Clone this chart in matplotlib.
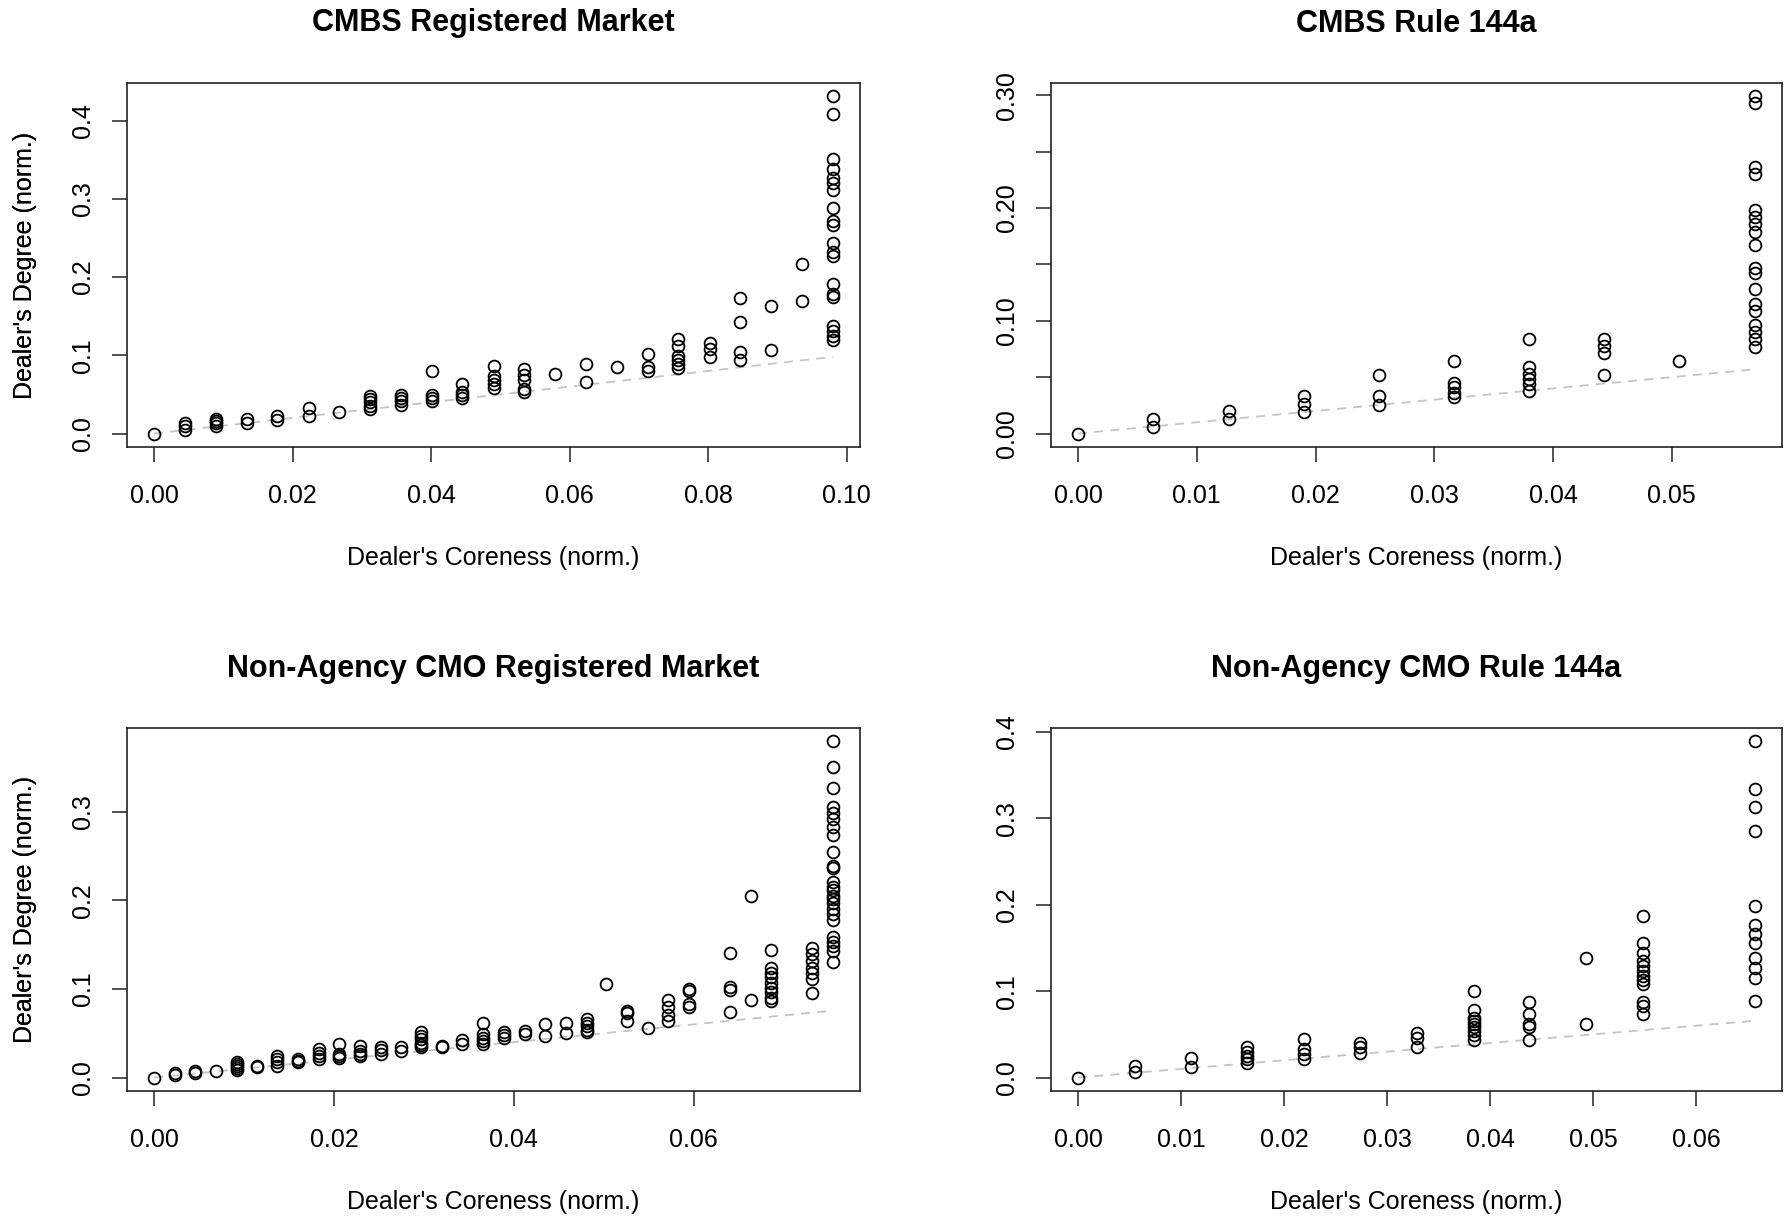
import matplotlib
matplotlib.use("Agg")
import matplotlib.pyplot as plt

plt.rcParams['font.family'] = ['Liberation Sans', 'DejaVu Sans']

# ---- CMBS Registered Market ----
cmbs_reg_core = [0.0, 0.0045, 0.0089, 0.0134, 0.0178, 0.0223, 0.0267, 0.0312,
                 0.0356, 0.0401, 0.0445, 0.0490, 0.0534, 0.0579, 0.0624, 0.0668,
                 0.0713, 0.0757, 0.0802, 0.0846, 0.0891, 0.0935, 0.0980]
cmbs_reg_deg = [
    [0.0],
    [0.005, 0.009, 0.013],
    [0.009, 0.013, 0.016, 0.018],
    [0.013, 0.018],
    [0.017, 0.022],
    [0.022, 0.032],
    [0.027],
    [0.031, 0.035, 0.040, 0.044, 0.048],
    [0.036, 0.041, 0.045, 0.049],
    [0.041, 0.045, 0.049, 0.080],
    [0.045, 0.049, 0.053, 0.063],
    [0.058, 0.063, 0.068, 0.074, 0.086],
    [0.053, 0.057, 0.068, 0.075, 0.082],
    [0.076],
    [0.066, 0.089],
    [0.085],
    [0.080, 0.085, 0.102],
    [0.084, 0.089, 0.094, 0.099, 0.112, 0.121],
    [0.098, 0.108, 0.116],
    [0.094, 0.104, 0.142, 0.173],
    [0.107, 0.163],
    [0.169, 0.217],
    [0.119, 0.125, 0.131, 0.138, 0.174, 0.178, 0.191, 0.227, 0.232, 0.244,
     0.267, 0.272, 0.289, 0.311, 0.321, 0.327, 0.338, 0.351, 0.408, 0.431],
]

# ---- CMBS Rule 144a ----
cmbs_144a_core = [0.0, 0.0063, 0.0127, 0.0190, 0.0253, 0.0317, 0.0380, 0.0443,
                  0.0506, 0.0570]
cmbs_144a_deg = [
    [0.0],
    [0.006, 0.013],
    [0.013, 0.020],
    [0.019, 0.026, 0.033],
    [0.025, 0.033, 0.052],
    [0.032, 0.036, 0.041, 0.045, 0.064],
    [0.038, 0.044, 0.048, 0.053, 0.059, 0.084],
    [0.052, 0.071, 0.078, 0.084],
    [0.064],
    [0.077, 0.084, 0.090, 0.096, 0.109, 0.115, 0.128, 0.142, 0.147, 0.167,
     0.179, 0.186, 0.192, 0.198, 0.230, 0.236, 0.293, 0.299],
]

# ---- Non-Agency CMO Registered Market ----
cmo_reg_core = [0.0, 0.0023, 0.0046, 0.0069, 0.0092, 0.0114, 0.0137, 0.0160,
                0.0183, 0.0206, 0.0229, 0.0252, 0.0275, 0.0297, 0.0320, 0.0343,
                0.0366, 0.0389, 0.0412, 0.0435, 0.0458, 0.0481, 0.0503, 0.0526,
                0.0549, 0.0572, 0.0595, 0.0641, 0.0664, 0.0686, 0.0732, 0.0755]
cmo_reg_deg = [
    [0.0],
    [0.003, 0.005],
    [0.005, 0.007],
    [0.007],
    [0.008, 0.011, 0.013, 0.015, 0.017],
    [0.012, 0.013],
    [0.013, 0.017, 0.021, 0.024],
    [0.017, 0.019, 0.021],
    [0.021, 0.024, 0.028, 0.032],
    [0.022, 0.024, 0.026, 0.038],
    [0.024, 0.027, 0.030, 0.036],
    [0.027, 0.031, 0.034],
    [0.030, 0.034],
    [0.034, 0.037, 0.039, 0.043, 0.047, 0.051],
    [0.034, 0.036],
    [0.038, 0.042],
    [0.038, 0.041, 0.045, 0.049, 0.061],
    [0.045, 0.048, 0.051],
    [0.049, 0.053],
    [0.047, 0.060],
    [0.050, 0.061],
    [0.051, 0.054, 0.058, 0.061, 0.066],
    [0.106],
    [0.064, 0.073, 0.075],
    [0.056],
    [0.064, 0.071, 0.080, 0.088],
    [0.080, 0.083, 0.098, 0.100],
    [0.074, 0.099, 0.102, 0.141],
    [0.088, 0.205],
    [0.086, 0.090, 0.096, 0.101, 0.107, 0.113, 0.118, 0.124, 0.144],
    [0.095, 0.111, 0.118, 0.124, 0.131, 0.139, 0.146],
    [0.130, 0.143, 0.148, 0.153, 0.158, 0.178, 0.184, 0.190, 0.197, 0.201,
     0.205, 0.212, 0.215, 0.220, 0.236, 0.238, 0.254, 0.274, 0.283, 0.291,
     0.298, 0.305, 0.326, 0.350, 0.379],
]

# ---- Non-Agency CMO Rule 144a ----
cmo_144a_core = [0.0, 0.0055, 0.0110, 0.0164, 0.0219, 0.0274, 0.0329, 0.0384,
                 0.0438, 0.0493, 0.0548, 0.0657]
cmo_144a_deg = [
    [0.0],
    [0.006, 0.013],
    [0.012, 0.023],
    [0.017, 0.021, 0.025, 0.030, 0.035],
    [0.022, 0.027, 0.033, 0.045],
    [0.028, 0.035, 0.040],
    [0.035, 0.046, 0.051],
    [0.044, 0.049, 0.054, 0.058, 0.062, 0.065, 0.069, 0.078, 0.100],
    [0.044, 0.058, 0.062, 0.073, 0.088],
    [0.062, 0.138],
    [0.073, 0.083, 0.088, 0.108, 0.113, 0.117, 0.123, 0.129, 0.135, 0.144,
     0.156, 0.187],
    [0.089, 0.115, 0.127, 0.138, 0.156, 0.166, 0.177, 0.199, 0.285, 0.313,
     0.334, 0.389],
]

panels = [
    ("CMBS Registered Market", cmbs_reg_core, cmbs_reg_deg,
     [0.0, 0.02, 0.04, 0.06, 0.08, 0.10], "{:.2f}",
     [0.0, 0.1, 0.2, 0.3, 0.4], "{:.1f}", None),
    ("CMBS Rule 144a", cmbs_144a_core, cmbs_144a_deg,
     [0.0, 0.01, 0.02, 0.03, 0.04, 0.05], "{:.2f}",
     [0.0, 0.1, 0.2, 0.3], "{:.2f}", [0.05, 0.15, 0.25]),
    ("Non-Agency CMO Registered Market", cmo_reg_core, cmo_reg_deg,
     [0.0, 0.02, 0.04, 0.06], "{:.2f}",
     [0.0, 0.1, 0.2, 0.3], "{:.1f}", None),
    ("Non-Agency CMO Rule 144a", cmo_144a_core, cmo_144a_deg,
     [0.0, 0.01, 0.02, 0.03, 0.04, 0.05, 0.06], "{:.2f}",
     [0.0, 0.1, 0.2, 0.3, 0.4], "{:.1f}", None),
]

W, H = 1786, 1218
fig = plt.figure(figsize=(W / 100, H / 100), dpi=100)

# axes boxes in pixels: left, top, right, bottom
boxes = [(127, 83, 860, 447), (1051, 83, 1782, 447),
         (127, 728, 860, 1091), (1051, 728, 1782, 1091)]

for (title, core, deg, xt, xfmt, yt, yfmt, yminor), (l, t, r, b) in zip(panels, boxes):
    ax = fig.add_axes([l / W, 1 - b / H, (r - l) / W, (b - t) / H])
    xs, ys = [], []
    for c, vals in zip(core, deg):
        xs += [c] * len(vals)
        ys += vals
    ax.plot(xs, ys, 'o', ms=8.5, mfc='none', mec='black', mew=1.3, zorder=3)
    xmax = max(core)
    ax.plot([0, xmax], [0, xmax], color='#c4c4c4', lw=1.3,
            dashes=(5, 4), zorder=2)
    ax.margins(0.04)

    ax.set_xticks(xt)
    ax.set_xticklabels([xfmt.format(v) for v in xt])
    ax.set_yticks(yt)
    ax.set_yticklabels([yfmt.format(v) for v in yt])
    if yminor:
        ax.set_yticks(yminor, minor=True)
    ax.tick_params(which='both', direction='out', length=10.8, width=1.1,
                   color='#222222', labelsize=18)
    ax.tick_params(axis='x', pad=16)
    ax.tick_params(axis='y', labelrotation=90, pad=12)
    for lab in ax.get_yticklabels():
        lab.set_va('center')
    for sp in ax.spines.values():
        sp.set_linewidth(1.2)
        sp.set_color('#222222')

    # title centred ~62 px above the top spine
    ax.set_title(title, fontsize=22, fontweight='bold',
                 y=1 + 59.5 / (b - t), va='center', pad=0)
    ax.set_xlabel("Dealer's Coreness (norm.)", fontsize=18, va='center')
    ax.xaxis.set_label_coords(0.5, -111 / (b - t))
    ax.set_ylabel("Dealer's Degree (norm.)", fontsize=18, va='center')
    ax.yaxis.set_label_coords(-(l - 25) / (r - l), 0.5)

fig.savefig('out.png', dpi=100)
